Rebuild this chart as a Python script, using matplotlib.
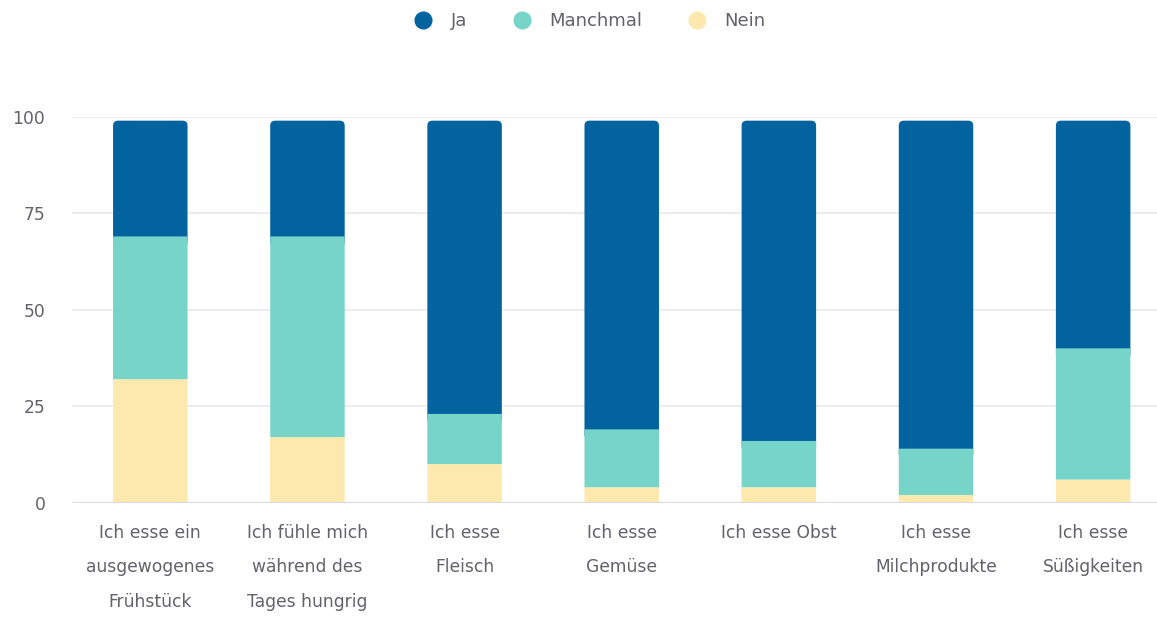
import matplotlib
matplotlib.use("Agg")
import matplotlib.pyplot as plt
from matplotlib.patches import FancyBboxPatch
from matplotlib.lines import Line2D

plt.rcParams['font.family'] = ['DejaVu Sans']

categories = [
    "Ich esse ein\nausgewogenes\nFrühstück",
    "Ich fühle mich\nwährend des\nTages hungrig",
    "Ich esse\nFleisch",
    "Ich esse\nGemüse",
    "Ich esse Obst",
    "Ich esse\nMilchprodukte",
    "Ich esse\nSüßigkeiten",
]
nein = [32, 17, 10, 4, 4, 2, 6]
manchmal = [37, 52, 13, 15, 12, 12, 34]
ja = [30, 30, 76, 80, 83, 85, 59]
series_names = ["Ja", "Manchmal", "Nein"]
yticks = [0, 25, 50, 75, 100]

c_ja = "#03639F"
c_man = "#77D4C9"
c_nein = "#FDE9AD"
text_c = "#62626B"

fig = plt.figure(figsize=(11.57, 6.18), dpi=100)
ax = fig.add_axes([0.062, 0.1866, 0.948, 0.6244])

x = list(range(len(categories)))
w = 0.474
ax.bar(x, nein, width=w, color=c_nein, zorder=3, snap=False)
ax.bar(x, manchmal, width=w, bottom=nein, color=c_man, zorder=3, snap=False)
bot3 = [a + b for a, b in zip(nein, manchmal)]
ja_bars = ax.bar(x, ja, width=w, bottom=bot3, color=c_ja, zorder=2.9, snap=False)

ax.set_xlim(-0.5, 6.5 - 0.02)
ax.set_ylim(0, 100)

# top segment gets rounded corners; its lower corners tuck under the middle segment
fig.canvas.draw()
px_x = ax.transData.transform((1, 0))[0] - ax.transData.transform((0, 0))[0]
px_y = ax.transData.transform((0, 1))[1] - ax.transData.transform((0, 0))[1]
r_px = 5.0
rx = r_px / px_x
ry = r_px / px_y
for b in ja_bars:
    b.set_visible(False)
    x0, y0, bw, bh = b.get_x(), b.get_y(), b.get_width(), b.get_height()
    ax.add_patch(FancyBboxPatch((x0, y0 - 2 * ry), bw, bh + 2 * ry,
                                boxstyle=f"round,pad=0,rounding_size={rx}",
                                mutation_aspect=ry / rx,
                                facecolor=c_ja, edgecolor="none", zorder=2.9,
                                snap=False))

ax.set_yticks(yticks)
ax.set_yticklabels([str(v) for v in yticks])
ax.set_xticks(x)
ax.set_xticklabels(categories, linespacing=2.2, va="top")
ax.tick_params(axis="both", length=0, labelsize=12.3, colors=text_c)
ax.tick_params(axis="y", pad=19)
ax.tick_params(axis="x", pad=15)

ax.grid(axis="y", color="#E8EAEE", linewidth=1.2, zorder=0)
ax.set_axisbelow(True)
for s in ax.spines.values():
    s.set_visible(False)
ax.axhline(0, color="#D6DAE2", linewidth=1.5, zorder=4)

handles = [Line2D([], [], marker="o", linestyle="none", markersize=12,
                  markerfacecolor=c, markeredgecolor=c)
           for c in (c_ja, c_man, c_nein)]
fig.legend(handles, series_names, loc="center", bbox_to_anchor=(0.506, 0.966),
           ncol=3, frameon=False, fontsize=13, handletextpad=0.55,
           columnspacing=2.0, labelcolor=text_c)

fig.savefig("out.png", dpi=100, facecolor="white")
